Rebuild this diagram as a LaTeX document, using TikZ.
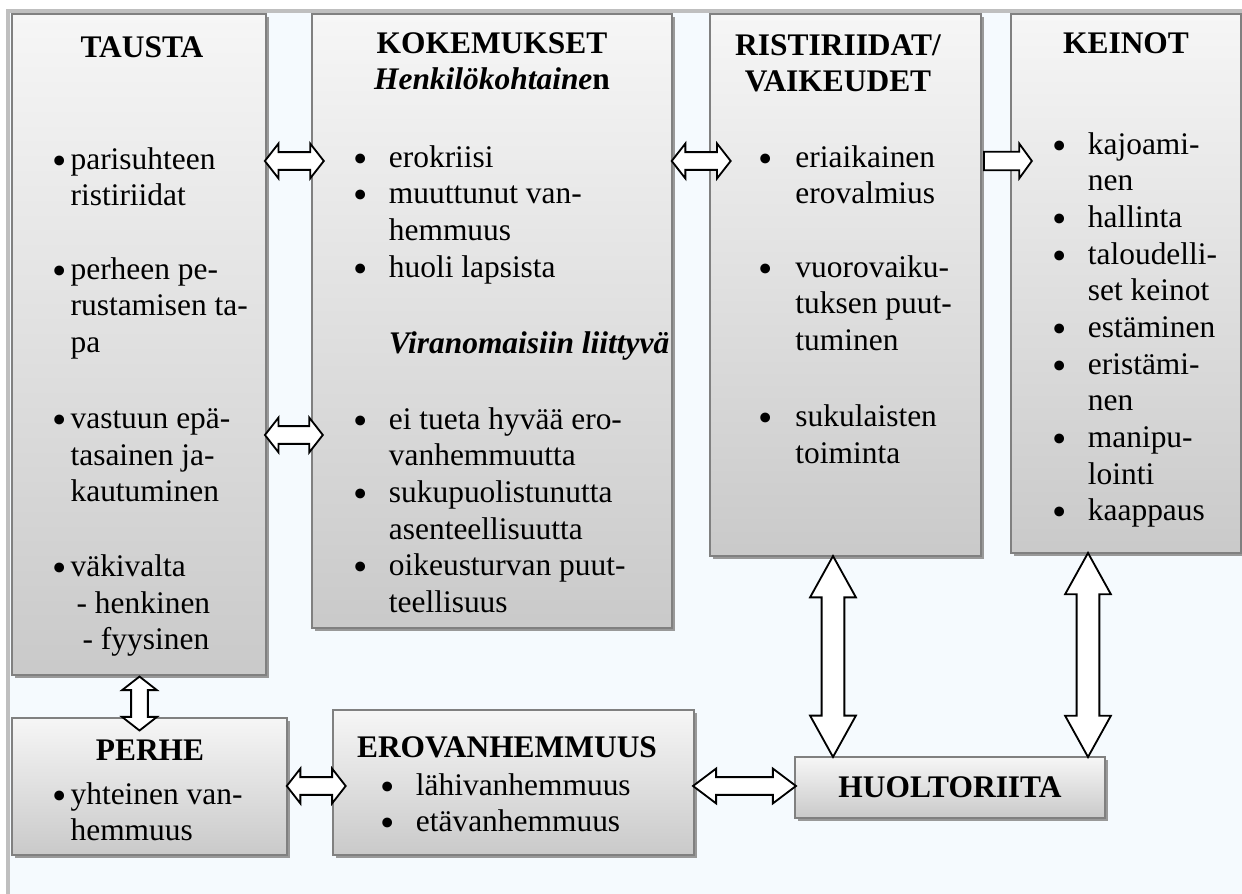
\documentclass[tikz,border=0pt]{standalone}
\usepackage{fontspec}
\setmainfont{Liberation Serif}
\usetikzlibrary{shapes.arrows, shadows, fit}

\definecolor{pohja}{RGB}{245,250,254}
\definecolor{kehys}{RGB}{191,191,191}

\newcommand\bul[1][13.5pt]{\makebox[#1][l]{\smash{\raisebox{-1.9pt}{\scalebox{1.3}{\textbullet}}}}}
\newcommand\sis[1][13.5pt]{\hspace*{#1}}

\tikzset{
  laatikko/.style={draw=gray, line width=0.6pt, inner sep=0pt,
    top color=gray!7, bottom color=gray!42,
    drop shadow={shadow xshift=1pt, shadow yshift=-1.2pt, fill=gray!80, opacity=1}},
  otsikko/.style={font=\fontsize{12}{14}\selectfont\bfseries, align=center, inner sep=0pt},
  teksti/.style={font=\fontsize{12}{14}\selectfont, align=left, anchor=north west, inner sep=0pt},
  kaksi/.style={double arrow, draw=black, fill=white, line width=0.7pt,
    inner xsep=0pt, inner ysep=3.05pt, double arrow head extend=3.25pt,
    double arrow head indent=0pt, double arrow tip angle=104},
  yksi/.style={single arrow, draw=black, fill=white, line width=0.7pt,
    inner xsep=0pt, inner ysep=3.2pt, single arrow head extend=3.1pt,
    single arrow head indent=0pt, single arrow tip angle=108}
}

\begin{document}
\begin{tikzpicture}[x=0.3817pt, y=-0.3817pt]
  \useasboundingbox (0,0) rectangle (1242,894);
  \fill[pohja] (8,11) rectangle (1242,894);
  \draw[kehys, line width=1.2pt] (8,894) -- (8,11) -- (1242,11);

  % laatikot
  \node[laatikko, fit={(12,14) (266,675)}] (tausta) {};
  \node[laatikko, fit={(312,14) (672,628)}] (kokemukset) {};
  \node[laatikko, fit={(710,14) (981,556)}] (ristiriidat) {};
  \node[laatikko, fit={(1011,14) (1241,553)}] (keinot) {};
  \node[laatikko, fit={(12,718) (287,855)}] (perhe) {};
  \node[laatikko, fit={(333,710) (694,855)}] (erovanhemmuus) {};
  \node[laatikko, fit={(795,757) (1105,818)}] (huoltoriita) {};

  % otsikot
  \node[otsikko, anchor=north] (tausta-o) at (142,31) {\strut TAUSTA};
  \node[otsikko, anchor=north] (kokemukset-o) at (492,27)
      {\strut KOKEMUKSET\\\textit{Henkilökohtaine}n};
  \node[otsikko, anchor=north] (ristiriidat-o) at (838,29) {\strut RISTIRIIDAT/\\VAIKEUDET};
  \node[otsikko, anchor=north] (keinot-o) at (1126,27) {\strut KEINOT};
  \node[otsikko, anchor=north] (perhe-o) at (150,734) {\strut PERHE};
  \node[otsikko, anchor=north] (erovanhemmuus-o) at (507,731) {\strut EROVANHEMMUUS};
  \node[otsikko] (huoltoriita-o) at (huoltoriita) {HUOLTORIITA};

  % tekstit
  \node[teksti] (tausta-t) at (52,143) {\strut\bul[6.9pt]parisuhteen\\
      \sis[6.9pt]ristiriidat\\[14pt]
      \bul[6.9pt]perheen pe-\\
      \sis[6.9pt]rustamisen ta-\\
      \sis[6.9pt]pa\\[15pt]
      \bul[6.9pt]vastuun epä-\\
      \sis[6.9pt]tasainen ja-\\
      \sis[6.9pt]kautuminen\\[14.5pt]
      \bul[6.9pt]väkivalta\\
      \sis[9.2pt]- henkinen\\
      \sis[11.5pt]- fyysinen};
  \node[teksti] (kokemukset-t) at (353,141) {\strut\bul erokriisi\\
      \bul muuttunut van-\\
      \sis hemmuus\\
      \bul huoli lapsista\\[15pt]
      \sis\textbf{\textit{Viranomaisiin liittyvä}}\\[15pt]
      \bul ei tueta hyvää ero-\\
      \sis vanhemmuutta\\
      \bul sukupuolistunutta\\
      \sis asenteellisuutta\\
      \bul oikeusturvan puut-\\
      \sis teellisuus};
  \node[teksti] (ristiriidat-t) at (758,141) {\strut\bul[14.1pt]eriaikainen\\
      \sis[14.1pt]erovalmius\\[14pt]
      \bul[14.1pt]vuorovaiku-\\
      \sis[14.1pt]tuksen puut-\\
      \sis[14.1pt]tuminen\\[15pt]
      \bul[14.1pt]sukulaisten\\
      \sis[14.1pt]toiminta};
  \node[teksti] (keinot-t) at (1052,128) {\strut\bul kajoami-\\
      \sis nen\\
      \bul hallinta\\
      \bul taloudelli-\\
      \sis set keinot\\
      \bul estäminen\\
      \bul eristämi-\\
      \sis nen\\
      \bul manipu-\\
      \sis lointi\\
      \bul kaappaus};
  \node[teksti] (perhe-t) at (52,778) {\strut\bul[6.9pt]yhteinen van-\\
      \sis[6.9pt]hemmuus};
  \node[teksti] (erovanhemmuus-t) at (380,769) {\strut\bul lähivanhemmuus\\
      \bul etävanhemmuus};

  % nuolet
  \path (tausta.east |- 0,161) -- (kokemukset.west |- 0,161)
      node[kaksi, pos=.62, minimum height=22.5pt] (n1) {};
  \path (tausta.east |- 0,435) -- (kokemukset.west |- 0,435)
      node[kaksi, pos=.61, minimum height=22.1pt] (n2) {};
  \path (kokemukset.east |- 0,161) -- (ristiriidat.west |- 0,161)
      node[kaksi, pos=.78, minimum height=22.5pt] (n3) {};
  \path (ristiriidat.east |- 0,161) -- (keinot.west |- 0,161)
      node[yksi, pos=.8, minimum height=18.3pt] (n4) {};
  \path (139.5,0 |- tausta.south) -- (139.5,0 |- perhe.north)
      node[kaksi, pos=.67, rotate=90, minimum height=20.6pt,
           inner ysep=2.86pt, double arrow head extend=3.44pt] (n5) {};
  \path (perhe.east |- 0,786) -- (erovanhemmuus.west |- 0,786)
      node[kaksi, pos=.64, minimum height=22.5pt] (n6) {};
  \path (erovanhemmuus.east |- 0,786) -- (huoltoriita.west |- 0,786)
      node[kaksi, midway, minimum height=39.3pt, double arrow tip angle=74] (n7) {};
  \path (833,0 |- ristiriidat.south) -- (833,0 |- huoltoriita.north)
      node[kaksi, midway, rotate=90, minimum height=76.7pt, inner ysep=4pt,
           double arrow head extend=4.4pt, double arrow tip angle=58] (n8) {};
  \path (1088,0 |- keinot.south) -- (1088,0 |- huoltoriita.north)
      node[kaksi, midway, rotate=90, minimum height=77.9pt, inner ysep=4pt,
           double arrow head extend=4.4pt, double arrow tip angle=58] (n9) {};
\end{tikzpicture}
\end{document}
